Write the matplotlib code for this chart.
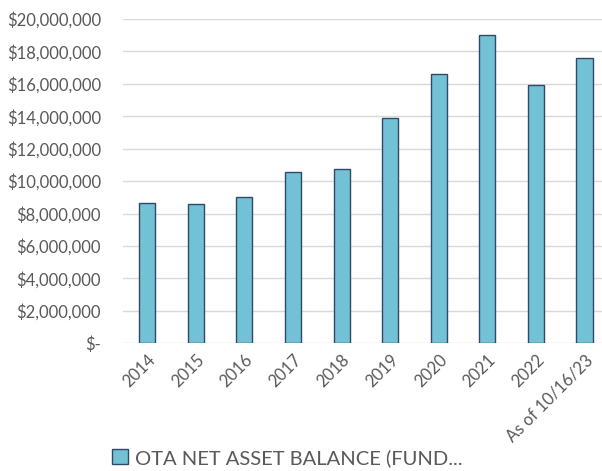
import matplotlib.pyplot as plt
from matplotlib.ticker import FuncFormatter

plt.rcParams['font.family'] = ['Lato', 'DejaVu Sans']

# 数据
categories = ['2014', '2015', '2016', '2017', '2018', '2019', '2020', '2021', '2022', 'As of 10/16/23']
balances = [8660000, 8560000, 9010000, 10570000, 10720000, 13900000, 16620000, 18990000, 15930000, 17570000]
series_name = 'OTA NET ASSET BALANCE (FUND...'

text_color = '#595959'

fig = plt.figure(figsize=(6.02, 4.71), dpi=100)
ax = fig.add_axes([0.2043, 0.2711, 0.807, 0.6886])

x = range(len(categories))
bars = ax.bar(x, balances, width=0.33, color='#72C1D4', edgecolor='#2E4A68',
              linewidth=1.0, label=series_name, zorder=3)

ax.set_xlim(-0.5, len(categories) - 0.5)
ax.set_ylim(0, 20000000)
ax.set_yticks(range(0, 20000001, 2000000))


def money(v, pos):
    if v == 0:
        return '$-'
    return '${:,.0f}'.format(v)


ax.yaxis.set_major_formatter(FuncFormatter(money))
ax.grid(axis='y', color='#D9D9D9', linewidth=1.0, zorder=0)
for s in ax.spines.values():
    s.set_visible(False)
ax.tick_params(axis='y', length=0, pad=16, labelsize=12, labelcolor=text_color)
ax.tick_params(axis='x', length=0, pad=6, labelsize=12, labelcolor=text_color)
ax.set_xticks(list(x))
ax.set_xticklabels(categories, rotation=45, ha='right', rotation_mode='anchor')

fig.legend(handles=[bars], labels=[series_name], loc='center left',
           bbox_to_anchor=(0.172, 0.028), frameon=False, fontsize=14.5,
           labelcolor=text_color, handlelength=0.8, handleheight=0.8,
           handletextpad=0.35, borderaxespad=0)

fig.savefig('out.png', dpi=100)
